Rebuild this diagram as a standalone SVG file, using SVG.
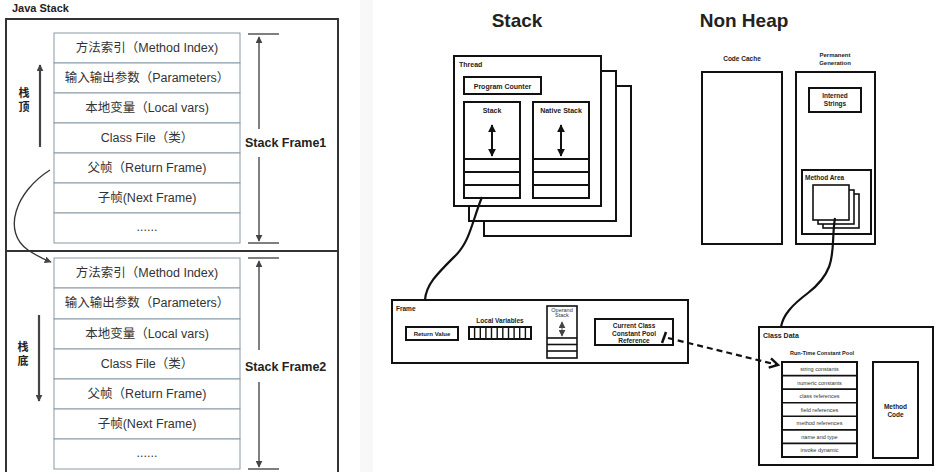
<svg xmlns="http://www.w3.org/2000/svg" width="935" height="472" viewBox="0 0 935 472">
<style>
.cell{fill:#fff;stroke:#8a9aa6;stroke-width:1}
.t{font-family:"Liberation Sans","Noto Sans CJK SC",sans-serif;font-size:12.5px;fill:#333;text-anchor:middle}
.b{font-family:"Liberation Sans","Noto Sans CJK SC",sans-serif;font-weight:bold;fill:#222}
.box{fill:#fff;stroke:#111;stroke-width:2}
.thin{fill:#fff;stroke:#111;stroke-width:1.6}
.gl{stroke:#555;stroke-width:1.5;fill:none}
.s{font-family:"Liberation Sans",sans-serif;font-weight:bold;fill:#222;text-anchor:middle}
.xs{font-family:"Liberation Sans",sans-serif;font-size:5.5px;fill:#333;text-anchor:middle}
</style>
<defs>
<marker id="ah" viewBox="0 0 10 10" refX="9" refY="5" markerWidth="7" markerHeight="7" orient="auto-start-reverse" markerUnits="userSpaceOnUse"><path d="M0,0 L10,5 L0,10 z" fill="#444"/></marker>
<marker id="bh" viewBox="0 0 10 10" refX="9" refY="5" markerWidth="8" markerHeight="8" orient="auto-start-reverse" markerUnits="userSpaceOnUse"><path d="M0,0 L10,5 L0,10 z" fill="#111"/></marker>
<marker id="oh" viewBox="0 0 10 10" refX="8" refY="5" markerWidth="12" markerHeight="12" orient="auto" markerUnits="userSpaceOnUse"><path d="M1,1 L8,5 L1,9" fill="none" stroke="#111" stroke-width="2"/></marker>
</defs>
<rect width="935" height="472" fill="#fff"/>
<rect x="360" y="0" width="13" height="472" fill="#f8f8f8"/>

<g id="java-stack">
<text class="b" x="12" y="12" font-size="11">Java Stack</text>
<path d="M6,472 V19 H338 V472" fill="none" stroke="#333" stroke-width="2"/>
<line x1="6" y1="251" x2="338" y2="251" stroke="#333" stroke-width="2"/>
</g>

<g id="frame1">
<rect class="cell" x="54" y="33" width="186" height="30"/>
<rect class="cell" x="54" y="63" width="186" height="30"/>
<rect class="cell" x="54" y="93" width="186" height="30"/>
<rect class="cell" x="54" y="123" width="186" height="30"/>
<rect class="cell" x="54" y="153" width="186" height="30"/>
<rect class="cell" x="54" y="183" width="186" height="30"/>
<rect class="cell" x="54" y="213" width="186" height="30"/>
<text class="t" x="147" y="52">方法索引（Method Index)</text>
<text class="t" x="147" y="82">输入输出参数（Parameters）</text>
<text class="t" x="147" y="112">本地变量（Local vars)</text>
<text class="t" x="147" y="142">Class File（类）</text>
<text class="t" x="147" y="172">父帧（Return Frame)</text>
<text class="t" x="147" y="202">子帧(Next Frame)</text>
<text class="t" x="147" y="231">......</text>
<line class="gl" x1="248" y1="34" x2="279" y2="34"/>
<line class="gl" x1="248" y1="243" x2="279" y2="243"/>
<line class="gl" x1="259" y1="129" x2="259" y2="37" marker-end="url(#ah)"/>
<line class="gl" x1="259" y1="157" x2="259" y2="241" marker-end="url(#ah)"/>
<text class="b" x="245" y="147" font-size="12.5">Stack Frame1</text>
<line x1="40" y1="147" x2="40" y2="65" stroke="#444" stroke-width="2.2" marker-end="url(#ah)"/>
<text class="b" x="24" y="97" font-size="11" text-anchor="middle">栈</text>
<text class="b" x="24" y="111" font-size="11" text-anchor="middle">顶</text>
</g>

<g id="frame2">
<rect class="cell" x="54" y="258" width="186" height="30"/>
<rect class="cell" x="54" y="288" width="186" height="31"/>
<rect class="cell" x="54" y="319" width="186" height="30"/>
<rect class="cell" x="54" y="349" width="186" height="30"/>
<rect class="cell" x="54" y="379" width="186" height="30"/>
<rect class="cell" x="54" y="409" width="186" height="30"/>
<rect class="cell" x="54" y="439" width="186" height="30"/>
<text class="t" x="147" y="277">方法索引（Method Index)</text>
<text class="t" x="147" y="307">输入输出参数（Parameters）</text>
<text class="t" x="147" y="338">本地变量（Local vars)</text>
<text class="t" x="147" y="368">Class File（类）</text>
<text class="t" x="147" y="398">父帧（Return Frame)</text>
<text class="t" x="147" y="428">子帧(Next Frame)</text>
<text class="t" x="147" y="457">......</text>
<line class="gl" x1="248" y1="258" x2="279" y2="258"/>
<line class="gl" x1="248" y1="469" x2="279" y2="469"/>
<line class="gl" x1="259" y1="350" x2="259" y2="261" marker-end="url(#ah)"/>
<line class="gl" x1="259" y1="382" x2="259" y2="467" marker-end="url(#ah)"/>
<text class="b" x="245" y="371" font-size="12.5">Stack Frame2</text>
<line x1="39" y1="315" x2="39" y2="401" stroke="#444" stroke-width="2.2" marker-end="url(#ah)"/>
<text class="b" x="23" y="351" font-size="11" text-anchor="middle">栈</text>
<text class="b" x="23" y="365" font-size="11" text-anchor="middle">底</text>
</g>

<g id="titles">
<text class="s" x="517" y="27" font-size="19">Stack</text>
<text class="s" x="744" y="27" font-size="19">Non Heap</text>
</g>

<g id="thread">
<rect class="box" x="484" y="86" width="147" height="150"/>
<rect class="box" x="469" y="71" width="147" height="150"/>
<rect class="box" x="454" y="56" width="147" height="150"/>
<text class="b" x="459" y="67" font-size="7">Thread</text>
<rect class="box" x="464" y="77" width="77" height="17"/>
<text class="s" x="502.5" y="89" font-size="7">Program Counter</text>
<rect class="box" x="464" y="102" width="56" height="96"/>
<line x1="464" y1="159" x2="520" y2="159" stroke="#111" stroke-width="2"/>
<line x1="464" y1="172" x2="520" y2="172" stroke="#111" stroke-width="2"/>
<line x1="464" y1="185" x2="520" y2="185" stroke="#111" stroke-width="2"/>
<text class="s" x="492" y="113" font-size="7">Stack</text>
<line x1="492" y1="125" x2="492" y2="156" stroke="#111" stroke-width="2" marker-start="url(#bh)" marker-end="url(#bh)"/>
<rect class="box" x="533" y="102" width="56" height="96"/>
<line x1="533" y1="159" x2="589" y2="159" stroke="#111" stroke-width="2"/>
<line x1="533" y1="172" x2="589" y2="172" stroke="#111" stroke-width="2"/>
<line x1="533" y1="185" x2="589" y2="185" stroke="#111" stroke-width="2"/>
<text class="s" x="561" y="113" font-size="7">Native Stack</text>
<line x1="561" y1="125" x2="561" y2="156" stroke="#111" stroke-width="2" marker-start="url(#bh)" marker-end="url(#bh)"/>
</g>

<g id="code-cache">
<text class="s" x="742" y="61" font-size="6.5">Code Cache</text>
<rect class="box" x="702" y="72" width="80" height="172"/>
</g>

<g id="permanent-generation">
<text class="s" x="835" y="57" font-size="6">Permanent</text>
<text class="s" x="835" y="65" font-size="6">Generation</text>
<rect class="box" x="796" y="72" width="79" height="172"/>
<rect class="box" x="809" y="88" width="52" height="24"/>
<text class="s" x="835" y="98" font-size="6.5">Interned</text>
<text class="s" x="835" y="106" font-size="6.5">Strings</text>
<rect class="box" x="802" y="170" width="69" height="64"/>
<text class="b" x="805" y="180" font-size="6.5">Method Area</text>
<rect class="thin" x="823" y="194" width="36" height="34"/>
<rect class="thin" x="818" y="190" width="36" height="34"/>
<rect class="thin" x="813" y="185" width="36" height="35"/>
</g>

<g id="frame">
<rect class="box" x="392" y="300" width="296" height="63"/>
<text class="b" x="396" y="311" font-size="6.5">Frame</text>
<rect class="box" x="406" y="327" width="52" height="13"/>
<text class="s" x="432" y="336" font-size="6">Return Value</text>
<text class="s" x="500" y="323" font-size="6.5">Local Variables</text>
<rect class="box" x="469" y="327" width="62" height="12"/>
<path d="M474.6,327V339M480.3,327V339M485.9,327V339M491.5,327V339M497.2,327V339M502.8,327V339M508.5,327V339M514.1,327V339M519.7,327V339M525.4,327V339" stroke="#111" stroke-width="1.4"/>
<rect class="thin" x="547" y="306" width="30" height="52"/>
<line x1="547" y1="338" x2="577" y2="338" stroke="#111" stroke-width="1.6"/>
<line x1="547" y1="344.5" x2="577" y2="344.5" stroke="#111" stroke-width="1.6"/>
<line x1="547" y1="351" x2="577" y2="351" stroke="#111" stroke-width="1.6"/>
<text class="xs" x="562" y="312" font-size="3.6">Operand</text>
<text class="xs" x="562" y="316.8" font-size="3.6">Stack</text>
<line x1="562" y1="322" x2="562" y2="336" stroke="#555" stroke-width="1" marker-start="url(#ah)" marker-end="url(#ah)"/>
<rect class="box" x="595" y="319" width="78" height="26"/>
<text class="s" x="634" y="328" font-size="6.5">Current Class</text>
<text class="s" x="634" y="335.5" font-size="6.5">Constant Pool</text>
<text class="s" x="634" y="343" font-size="6.5">Reference</text>
</g>

<g id="class-data">
<rect class="box" x="759" y="327" width="174" height="138"/>
<text class="b" x="763" y="338" font-size="7">Class Data</text>
<text class="s" x="822" y="355" font-size="5.5">Run-Time Constant Pool</text>
<rect class="box" x="782" y="362" width="75" height="95"/>
<path d="M782,375.6H857M782,389.1H857M782,402.7H857M782,416.3H857M782,429.9H857M782,443.4H857" stroke="#111" stroke-width="1.6"/>
<text class="xs" x="819.5" y="371">string constants</text>
<text class="xs" x="819.5" y="384.5">numeric constants</text>
<text class="xs" x="819.5" y="398">class references</text>
<text class="xs" x="819.5" y="411.5">field references</text>
<text class="xs" x="819.5" y="425">method references</text>
<text class="xs" x="819.5" y="438.5">name and type</text>
<text class="xs" x="819.5" y="452">invoke dynamic</text>
<rect class="box" x="873" y="362" width="45" height="96"/>
<text class="s" x="895.5" y="409" font-size="6.5">Method</text>
<text class="s" x="895.5" y="417" font-size="6.5">Code</text>
</g>

<g id="connectors">
<path d="M50,170 C15,192 2,232 28,250 Q40,258 51,262" fill="none" stroke="#333" stroke-width="1.3" marker-end="url(#ah)"/>
<path d="M482,197 C472,222 470,240 457,254 C438,273 426,284 425,300" fill="none" stroke="#111" stroke-width="2.2"/>
<path d="M835,218 C830,248 840,268 808,293 C792,305 783,315 781,327" fill="none" stroke="#111" stroke-width="2.2"/>
<line x1="662" y1="343" x2="666" y2="332" stroke="#111" stroke-width="2.5"/>
<line x1="668" y1="338" x2="778" y2="365" stroke="#111" stroke-width="2.2" stroke-dasharray="6,4" marker-end="url(#oh)"/>
</g>
</svg>
